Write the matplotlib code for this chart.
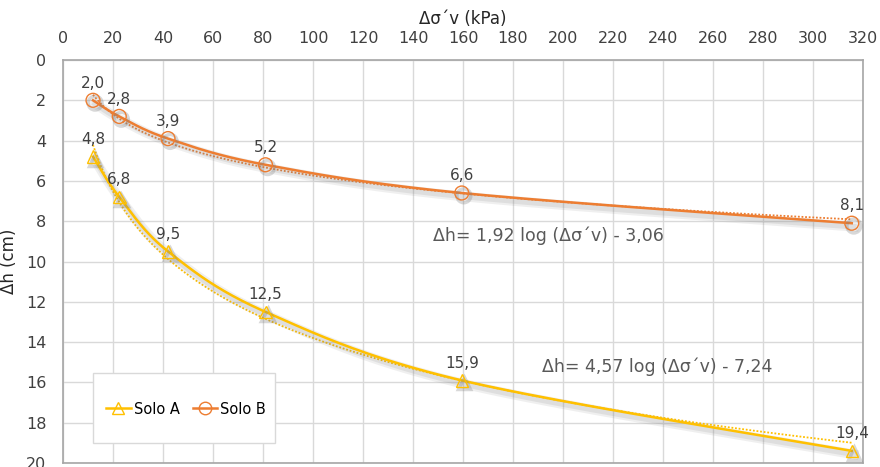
import numpy as np
import matplotlib
matplotlib.use("Agg")
import matplotlib.pyplot as plt
import matplotlib.patheffects as pe
from matplotlib.patches import Rectangle

plt.rcParams["font.family"] = ["DejaVu Sans"]

# Data
tensao = [12, 22.5, 42, 81, 159.5, 315.5]           # Δσ´v (kPa)
solo_a = [4.8, 6.8, 9.5, 12.5, 15.9, 19.4]        # Δh (cm)
solo_b = [2.0, 2.8, 3.9, 5.2, 6.6, 8.1]           # Δh (cm)
labels_a = ["4,8", "6,8", "9,5", "12,5", "15,9", "19,4"]
labels_b = ["2,0", "2,8", "3,9", "5,2", "6,6", "8,1"]
eq_a = "Δh= 4,57 log (Δσ´v) - 7,24"
eq_b = "Δh= 1,92 log (Δσ´v) - 3,06"

cor_a = "#FFC000"
cor_b = "#ED7D31"


def smooth_line(x, y, n=40):
    # Catmull-Rom style smoothing like Excel's "smoothed line"
    x = np.asarray(x, float)
    y = np.asarray(y, float)
    px = np.concatenate([[x[0]], x, [x[-1]]])
    py = np.concatenate([[y[0]], y, [y[-1]]])
    xs, ys = [], []
    for i in range(1, len(px) - 2):
        p0, p1, p2, p3 = (np.array([px[j], py[j]]) for j in range(i - 1, i + 3))
        c1 = p1 + (p2 - p0) / 6
        c2 = p2 - (p3 - p1) / 6
        t = np.linspace(0, 1, n)[:, None]
        pts = ((1 - t) ** 3) * p1 + 3 * ((1 - t) ** 2) * t * c1 + 3 * (1 - t) * t ** 2 * c2 + t ** 3 * p2
        xs.extend(pts[:, 0])
        ys.extend(pts[:, 1])
    return np.array(xs), np.array(ys)


fig = plt.figure(figsize=(8.8, 4.67), dpi=100)
ax = fig.add_axes([63 / 880, 1 - 463 / 467, 800 / 880, 403 / 467])

# soft grey shadow under the lines
shadow = [pe.SimpleLineShadow(offset=(1.5, -2.5), shadow_color="#7F7F7F", alpha=0.12, linewidth=7),
          pe.SimpleLineShadow(offset=(1.5, -2.5), shadow_color="#7F7F7F", alpha=0.15, linewidth=4),
          pe.Normal()]
mk_shadow = [pe.SimpleLineShadow(offset=(1.5, -2), shadow_color="#7F7F7F", alpha=0.3, linewidth=2.5),
             pe.Normal()]

handles = []
for xs_, ys_, cor, mk, ms, lab, txts in [
    (tensao, solo_a, cor_a, "^", 9, "Solo A", labels_a),
    (tensao, solo_b, cor_b, "o", 10, "Solo B", labels_b),
]:
    # log trendline (Excel style), dotted
    coef = np.polyfit(np.log(xs_), ys_, 1)
    xt = np.linspace(min(xs_), max(xs_), 200)
    ax.plot(xt, np.polyval(coef, np.log(xt)), color=cor, lw=1.3, ls=(0, (1, 1)), zorder=3)
    # smoothed series line
    sx, sy = smooth_line(xs_, ys_)
    ax.plot(sx, sy, color=cor, lw=1.8, zorder=4, path_effects=shadow)
    ax.plot(xs_, ys_, ls="none", marker=mk, ms=ms, mfc="none", mec=cor, mew=1.0, zorder=5,
            path_effects=mk_shadow)
    h, = ax.plot([], [], color=cor, lw=1.8, marker=mk, ms=ms - 1, mfc="none", mec=cor, mew=1.0, label=lab)
    handles.append(h)
    for xv, yv, t in zip(xs_, ys_, txts):
        ax.annotate(t, (xv, yv), textcoords="offset points", xytext=(0, 7), ha="center", va="bottom",
                    fontsize=11, color="#404040", zorder=6)

ax.text(148, 8.73, eq_b, fontsize=12.5, color="#595959", ha="left", va="center")
ax.text(191.6, 15.24, eq_a, fontsize=12.5, color="#595959", ha="left", va="center")

ax.set_xlim(0, 320)
ax.set_ylim(20, 0)
ax.set_xticks(np.arange(0, 321, 20))
ax.set_yticks(np.arange(0, 21, 2))
ax.xaxis.tick_top()
ax.xaxis.set_label_position("top")
ax.tick_params(axis="both", length=0, labelsize=11.5, colors="#404040")
ax.tick_params(axis="x", pad=10)
ax.tick_params(axis="y", pad=12)
ax.set_xlabel("Δσ´v (kPa)", fontsize=12, labelpad=5, color="#262626")
ax.set_ylabel("Δh (cm)", fontsize=12, labelpad=6, color="#262626")
ax.grid(True, color="#D9D9D9", lw=1)
ax.set_axisbelow(True)
for s in ax.spines.values():
    s.set_color("#A6A6A6")
    s.set_linewidth(1.2)

# legend box
ax.add_patch(Rectangle((30 / 800, 20 / 403), 182 / 800, 70 / 403, transform=ax.transAxes,
                       facecolor="white", edgecolor="#D9D9D9", lw=1.0, zorder=2.5))
leg = ax.legend(handles=handles, loc="center", bbox_to_anchor=(123 / 800, 54 / 403), ncol=2,
                frameon=False, fontsize=10.5, handlelength=1.7, handletextpad=0.2,
                columnspacing=0.9, borderaxespad=0)
leg.set_zorder(6)

fig.savefig("out.png", dpi=100)
